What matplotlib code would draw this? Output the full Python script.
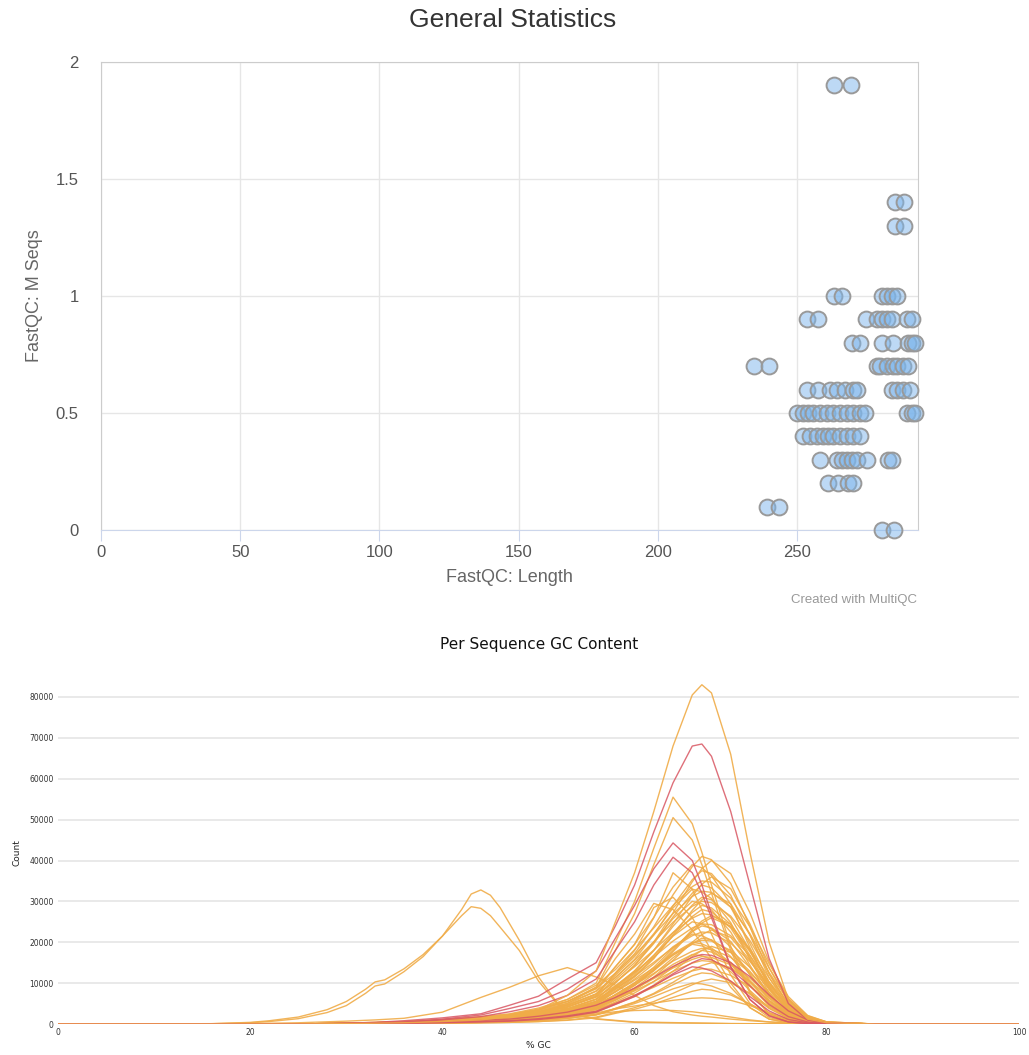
import numpy as np
import matplotlib
matplotlib.use("Agg")
import matplotlib.pyplot as plt

# ---- General Statistics scatter (FastQC length vs M seqs) ----
fastqc_length = [263.3, 269.4,
                 285.2, 288.4,
                 285.2, 288.4,
                 263.3, 266.1, 280.5, 282.3, 284.1, 285.9,
                 253.6, 257.5, 274.8, 278.7, 280.5, 282.3, 284.1, 289.5, 291.3,
                 269.7, 272.6, 280.5, 284.5, 289.9, 291.3, 292.4,
                 234.6, 239.9, 278.7, 279.8, 282.3, 284.5, 285.9, 288.1, 289.9,
                 253.6, 257.5, 261.9, 264.4, 267.2, 270.1, 271.6, 284.1, 285.9, 288.1, 290.6,
                 250.0, 252.2, 254.0, 255.8, 258.3, 260.8, 262.9, 265.4, 268.0, 270.1, 272.6, 274.4,
                 289.5, 291.3, 292.4,
                 252.2, 254.7, 257.2, 259.3, 261.1, 262.9, 265.4, 268.0, 270.1, 272.6,
                 258.3, 264.4, 266.2, 268.0, 269.7, 271.6, 275.1, 282.7, 284.1,
                 261.1, 264.7, 268.3, 270.1,
                 239.2, 243.5,
                 280.5, 284.8]
fastqc_mseqs = ([1.9] * 2 + [1.4] * 2 + [1.3] * 2 + [1.0] * 6 + [0.9] * 9 + [0.8] * 7
                + [0.7] * 9 + [0.6] * 11 + [0.5] * 15 + [0.4] * 10 + [0.3] * 9
                + [0.2] * 4 + [0.1] * 2 + [0.0] * 2)

# ---- Per Sequence GC Content (counts in thousands) ----
gc_pct = [0, 20, 25, 30, 33, 36, 40, 44, 47, 50, 53, 56, 58, 60, 62, 64, 66, 67, 68, 70, 72, 74, 76, 78, 80, 85, 100]

gc_warn = [
    [0,0,0,0.2,0.3,0.5,0.8,1.2,1.8,2.9,4.5,7.4,12.3,17.2,23.8,31.6,38.5,41,40.2,34.4,23.8,12.3,4.5,1.2,0.3,0,0],
    [0,0,0,0.2,0.2,0.4,0.6,1.0,1.4,2.2,3.6,6.0,10,14.4,20,27.2,34.8,38,40,36.8,27.2,15.2,6,1.6,0.4,0,0],
    [0,0,0,0.2,0.4,0.6,1.0,1.6,2.3,3.5,5.5,8.6,14,19.5,26.1,33.5,39,38.2,36.3,29.3,18.7,9,3.1,0.8,0.2,0,0],
    [0,0,0,0.2,0.3,0.5,0.8,1.1,1.7,2.6,4.1,6.8,11.3,15.8,21.8,28.9,35.3,37.5,36.8,31.5,21.8,11.3,4.1,1.1,0.3,0,0],
    [0,0,0,0.1,0.2,0.4,0.5,0.9,1.3,2,3.2,5.4,9,13,18,24.5,31.3,34.2,36,33.1,24.5,13.7,5.4,1.4,0.4,0,0],
    [0,0,0,0.2,0.3,0.4,0.7,1,1.5,2.4,3.7,6.1,10.2,14.3,19.7,26.2,32,34,33.3,28.6,19.7,10.2,3.7,1,0.3,0,0],
    [0,0,0,0.2,0.3,0.5,0.8,1.3,2,3,4.6,7.3,11.9,16.5,22.1,28.4,33,32.3,30.7,24.8,15.8,7.6,2.6,0.7,0.2,0,0],
    [0,0,0,0.1,0.2,0.3,0.5,0.8,1.1,1.8,2.9,4.8,8,11.5,16,21.8,27.8,30.4,32,29.4,21.8,12.2,4.8,1.3,0.3,0,0],
    [0,0,0,0.2,0.2,0.4,0.6,0.9,1.4,2.2,3.4,5.6,9.3,13,18,23.9,29.1,31,30.4,26,18,9.3,3.4,0.9,0.2,0,0],
    [0,0,0,0.2,0.3,0.5,0.8,1.2,1.8,2.7,4.2,6.6,10.8,15,20.1,25.8,30,29.4,27.9,22.5,14.4,6.9,2.4,0.6,0.2,0,0],
    [0,0,0,0.1,0.2,0.3,0.6,0.8,1.3,2,3.1,5,8.4,11.8,16.2,21.6,26.3,28,27.4,23.5,16.2,8.4,3.1,0.8,0.2,0,0],
    [0,0,0,0.1,0.2,0.3,0.4,0.7,0.9,1.5,2.4,4,6.6,9.5,13.3,18,23.1,25.2,26.5,24.4,18,10.1,4,1.1,0.3,0,0],
    [0,0,0,0.2,0.3,0.4,0.6,1,1.5,2.3,3.5,5.5,9,12.5,16.8,21.5,25,24.5,23.3,18.8,12,5.8,2,0.5,0.1,0,0],
    [0,0,0,0.1,0.2,0.3,0.5,0.7,1.1,1.7,2.6,4.3,7.2,10.1,13.9,18.5,22.6,24,23.5,20.2,13.9,7.2,2.6,0.7,0.2,0,0],
    [0,0,0,0.1,0.1,0.2,0.3,0.6,0.8,1.3,2.1,3.5,5.8,8.3,11.5,15.6,20,21.9,23,21.2,15.6,8.7,3.5,0.9,0.2,0,0],
    [0,0,0,0.1,0.2,0.3,0.6,0.9,1.3,2,3.1,4.8,7.9,11,14.7,18.9,22,21.6,20.5,16.5,10.6,5.1,1.8,0.4,0.1,0,0],
    [0,0,0,0.1,0.2,0.3,0.4,0.6,0.9,1.5,2.3,3.8,6.3,8.8,12.2,16.2,19.7,21,20.6,17.6,12.2,6.3,2.3,0.6,0.2,0,0],
    [0,0,0,0.1,0.2,0.3,0.5,0.8,1.2,1.8,2.8,4.4,7.2,10,13.4,17.2,20,19.6,18.6,15,9.6,4.6,1.6,0.4,0.1,0,0],
    [0,0,0,0.1,0.1,0.2,0.3,0.5,0.7,1,1.7,2.9,4.8,6.8,9.5,12.9,16.5,18,19,17.5,12.9,7.2,2.9,0.8,0.2,0,0],
    [0,0,0,0.1,0.1,0.2,0.4,0.5,0.8,1.3,2,3.2,5.4,7.6,10.4,13.9,16.9,18,17.6,15.1,10.4,5.4,2,0.5,0.1,0,0],
    [0,0,0,0.1,0.2,0.3,0.4,0.7,1,1.5,2.4,3.7,6.1,8.5,11.4,14.6,17,16.7,15.8,12.8,8.2,3.9,1.4,0.3,0.1,0,0],
    [0,0,0,0.1,0.1,0.2,0.2,0.4,0.5,0.8,1.4,2.3,3.8,5.4,7.5,10.2,13.1,14.3,15,13.8,10.2,5.7,2.3,0.6,0.2,0,0],
    [0,0,0,0.1,0.1,0.2,0.3,0.4,0.6,0.9,1.4,2.3,3.8,5.3,7.3,9.6,11.8,12.5,12.3,10.5,7.3,3.8,1.4,0.4,0.1,0,0],
    [0,0,0,0,0.1,0.1,0.2,0.3,0.4,0.6,1,1.7,2.8,4,5.5,7.5,9.6,10.5,11,10.1,7.5,4.2,1.7,0.4,0.1,0,0],
    [0,0,0,0.1,0.1,0.2,0.3,0.4,0.6,0.9,1.4,2.2,3.6,5,6.7,8.6,10,9.8,9.3,7.5,4.8,2.3,0.8,0.2,0.1,0,0],
    [0,0,0,0,0.1,0.1,0.2,0.3,0.4,0.6,0.9,1.5,2.6,3.6,4.9,6.5,8,8.5,8.3,7.1,4.9,2.6,0.9,0.3,0.1,0,0],
    [0,0,0,0.2,0.4,0.6,1.1,1.8,2.5,3.9,6,9.5,13.3,18.2,23.5,29,33.6,35,34.7,30.8,23.8,14.7,6.7,2.1,0.5,0,0],
    [0,0,0,0.2,0.3,0.5,0.9,1.5,2.1,3.3,5.1,8.1,11.4,15.6,20.1,24.9,28.8,30,29.7,26.4,20.4,12.6,5.7,1.8,0.5,0,0],
    [0,0,0,0.2,0.3,0.4,0.8,1.4,1.9,3,4.6,7.3,10.3,14,18.1,22.4,25.9,27,26.7,23.8,18.4,11.3,5.1,1.6,0.4,0,0],
    [0,0,0,0.1,0.2,0.4,0.7,1.2,1.7,2.7,4.2,6.6,9.3,12.7,16.4,20.3,23.5,24.5,24.3,21.6,16.7,10.3,4.7,1.5,0.4,0,0],
    [0,0,0,0.1,0.2,0.4,0.7,1.1,1.6,2.5,3.8,6.1,8.6,11.7,15.1,18.7,21.6,22.5,22.3,19.8,15.3,9.5,4.3,1.4,0.3,0,0],
    [0,0,0,0.1,0.2,0.3,0.6,1,1.4,2.3,3.5,5.5,7.8,10.7,13.7,17,19.7,20.5,20.3,18,13.9,8.6,3.9,1.2,0.3,0,0],
    [0,0,0,0.1,0.2,0.3,0.6,0.9,1.3,2,3.1,5,7,9.6,12.4,15.4,17.8,18.5,18.3,16.3,12.6,7.8,3.5,1.1,0.3,0,0],
    [0,0,0,0.1,0.2,0.3,0.5,0.8,1.2,1.8,2.8,4.5,6.3,8.6,11.1,13.7,15.8,16.5,16.3,14.5,11.2,6.9,3.1,1,0.2,0,0],
    [0,0,0,0.1,0.1,0.2,0.4,0.7,0.9,1.5,2.3,3.6,5.1,7,9,11.2,13,13.5,13.4,11.9,9.2,5.7,2.6,0.8,0.2,0,0],
    [0,0,0,0.1,0.2,0.3,0.6,0.9,1.3,2,3.2,5.2,8.7,12.2,16.8,22.3,27.3,29,28.4,24.4,16.8,8.7,3.2,0.9,0.2,0,0],
    [0,0,0,0.1,0.2,0.3,0.4,0.7,0.9,1.4,2.3,3.9,6.5,9.4,13,17.7,22.6,24.7,26,23.9,17.7,9.9,3.9,1,0.3,0,0],
    [0,0,0,0.2,0.3,0.5,1,1.6,2.3,3.6,5.5,8.8,12.4,16.9,21.8,27,31.2,32.5,32.2,28.6,22.1,13.7,6.2,2,0.5,0,0],
    [0,0,0,0.1,0.2,0.3,0.5,0.8,1.2,1.8,2.7,4.3,7,9.8,13.1,16.8,19.5,19.1,18.1,14.6,9.4,4.5,1.6,0.4,0.1,0,0],
    [0,0,0,0.1,0.2,0.2,0.5,0.8,1.1,1.7,2.6,4.2,5.9,8.1,10.4,12.9,14.9,15.5,15.3,13.6,10.5,6.5,2.9,0.9,0.2,0,0],
    [0,0,0,0.1,0.1,0.2,0.4,0.6,0.9,1.3,1.9,2.7,3.7,4.4,5.1,5.8,6.3,6.4,6.3,5.8,4.5,2.8,1.2,0.4,0.1,0,0],
    [0,0,0,0.1,0.1,0.2,0.4,0.6,0.9,1.3,1.8,2.4,3,3.3,3.4,3.3,3,2.7,2.4,1.7,1,0.5,0.2,0.1,0,0,0],
    [0,0,0,0.1,0.2,0.3,0.6,1,1.6,2.6,4.2,7,12.5,18,26,37,33,28,22,12,5,1.6,0.4,0.1,0,0,0],
    [0,0,0,0.1,0.2,0.4,0.7,1.2,1.9,3,4.8,8,14,19.5,28.5,31,26,22,18,10,4,1.2,0.3,0.1,0,0,0],
    [0,0,0,0.2,0.3,0.5,0.9,1.4,2.2,3.5,5.5,9,16,22,29.5,28,23,19.5,16,9,4,1.2,0.3,0.1,0,0,0],
    [0,0,0,0.1,0.2,0.3,0.8,1.3,2.2,3.5,6,10,20,30,43,55.5,49,42,34,19,8,2.5,0.6,0.1,0,0,0],
    [0,0,0,0.1,0.2,0.3,0.6,1,1.8,3,5,9,18,27,39,50.5,45,39,32,18,7.5,2.5,0.6,0.1,0,0,0],
    [0,0.1,0.3,0.7,1.0,1.4,2.9,6.5,9,11.8,13.8,11.5,9.5,7,4.5,3,2.2,1.9,1.7,1.2,0.8,0.5,0.3,0.1,0,0,0],
]
gc_fail = [
    [0,0,0,0.1,0.1,0.2,0.3,0.5,0.7,1.1,1.8,2.9,4.8,6.7,9.3,12.3,15,16,15.7,13.4,9.3,4.8,1.8,0.5,0.1,0,0],
    [0,0,0,0.1,0.1,0.2,0.4,0.6,0.8,1.3,2,3.1,5,7,9.4,12,14,13.7,13,10.5,6.7,3.2,1.1,0.3,0.1,0,0],
    [0,0,0,0.1,0.2,0.3,0.5,0.9,1.2,1.9,2.9,4.6,6.5,8.8,11.4,14.1,16.3,17,16.8,15,11.6,7.1,3.2,1,0.3,0,0],
    [0,0,0,0.1,0.2,0.4,1,1.8,3,4.5,7,11,18,25,34,40.8,37,32,26,14,6,2,0.5,0.1,0,0,0],
    [0,0,0,0.1,0.3,0.5,1.2,2.2,3.8,5.5,8.5,13,21,29,38,44.3,40,34,27,14,6,2,0.5,0.1,0,0,0],
    [0,0,0,0.2,0.4,0.8,1.5,2.5,4.6,6.8,11,15,24,34,47,59,68,68.5,65.5,52,34,16,5,1,0.2,0,0],
]
gc_top = [0,0,0,0.1,0.2,0.3,0.6,1,1.8,3.5,7,13,25,37,52,68,80.5,83,81,66,42,20,6,1.2,0.3,0,0]

# two low-GC samples, read on a finer grid
gc_pct_low = [0, 15, 20, 22, 25, 28, 30, 32, 33, 34, 36, 38, 40, 42, 43, 44, 45, 46, 48, 50, 52, 54, 56, 60, 70, 80, 100]
gc_low = [
    [0,0,0.4,0.8,1.7,3.5,5.5,8.5,10.3,10.8,13.5,17,21.5,28,31.8,32.8,31.5,28.5,20.5,11.5,5,2.2,1.3,0.5,0.1,0,0],
    [0,0,0.3,0.6,1.3,2.8,4.5,7.5,9.3,9.8,12.8,16.5,21.5,26.5,28.7,28.3,26.5,23.7,18,10.5,4.8,2,1.2,0.4,0.1,0,0],
]

warn_color = "#f0ac48"
fail_color = "#d95763"

fig = plt.figure(figsize=(10.29, 10.55), dpi=100)
W, H = 1029, 1055

# ---------- top: scatter ----------
ax1 = fig.add_axes([101 / W, 1 - 530 / H, 817 / W, 468 / H])
ax1.scatter(fastqc_length, fastqc_mseqs, s=130, facecolor=(0.486, 0.71, 0.925, 0.5),
            edgecolor="#999999", linewidth=1.4, zorder=3, clip_on=False)
ax1.set_xlim(0, 293.5)
ax1.set_ylim(0, 2)
ax1.set_xticks([0, 50, 100, 150, 200, 250])
ax1.set_yticks([0, 0.5, 1, 1.5, 2])
ax1.set_yticklabels(["0", "0.5", "1", "1.5", "2"])
ax1.grid(True, color="#e6e6e6", linewidth=1)
ax1.set_axisbelow(True)
for side in ["top", "right", "left"]:
    ax1.spines[side].set_color("#cccccc")
ax1.spines["bottom"].set_color("#ccd6eb")
ax1.tick_params(axis="x", length=8, color="#ccd6eb", labelsize=12, labelcolor="#555555", pad=3)
ax1.tick_params(axis="y", length=0, labelsize=12, labelcolor="#555555", pad=16)
for lab in ax1.get_xticklabels() + ax1.get_yticklabels():
    lab.set_family("Liberation Sans")
ax1.set_xlabel("FastQC: Length", fontsize=13, color="#666666", family="Liberation Sans", labelpad=6)
ax1.set_ylabel("FastQC: M Seqs", fontsize=13, color="#666666", family="Liberation Sans", labelpad=9)
fig.text(513 / W, 1 - 20 / H, "General Statistics", ha="center", va="center",
         fontsize=19, color="#333333", family="Liberation Sans")
fig.text(917 / W, 1 - 600 / H, "Created with MultiQC", ha="right", va="center",
         fontsize=9.5, color="#999999", family="Liberation Sans")

# ---------- bottom: GC content lines ----------
ax2 = fig.add_axes([58 / W, 1 - 1024 / H, 961 / W, 343.35 / H])
gc = np.array(gc_pct)
for vals in gc_low:
    ax2.plot(gc_pct_low, np.array(vals) * 1000, color=warn_color, linewidth=1.0, alpha=0.9)
for vals in gc_warn:
    ax2.plot(gc, np.array(vals) * 1000, color=warn_color, linewidth=1.0, alpha=0.9)
for vals in gc_fail:
    ax2.plot(gc, np.array(vals) * 1000, color=fail_color, linewidth=1.0, alpha=0.85)
ax2.plot(gc, np.array(gc_top) * 1000, color=warn_color, linewidth=1.0, alpha=0.9)
ax2.set_xlim(0, 100)
ax2.set_ylim(0, 84000)
ax2.set_xticks([0, 20, 40, 60, 80, 100])
ax2.set_yticks(range(0, 80001, 10000))
ax2.yaxis.grid(True, color="#e5e5e5", linewidth=1.2)
ax2.set_axisbelow(True)
for side in ax2.spines:
    ax2.spines[side].set_visible(False)
ax2.tick_params(length=0, labelsize=5.5, labelcolor="#333333", pad=3)
ax2.set_xlabel("% GC", fontsize=6.5, color="#222222", labelpad=3)
ax2.set_ylabel("Count", fontsize=6.5, color="#222222", labelpad=6)
fig.text(539 / W, 1 - 645 / H, "Per Sequence GC Content", ha="center", va="center",
         fontsize=11, color="#111111")

fig.savefig("out.png", dpi=100)
